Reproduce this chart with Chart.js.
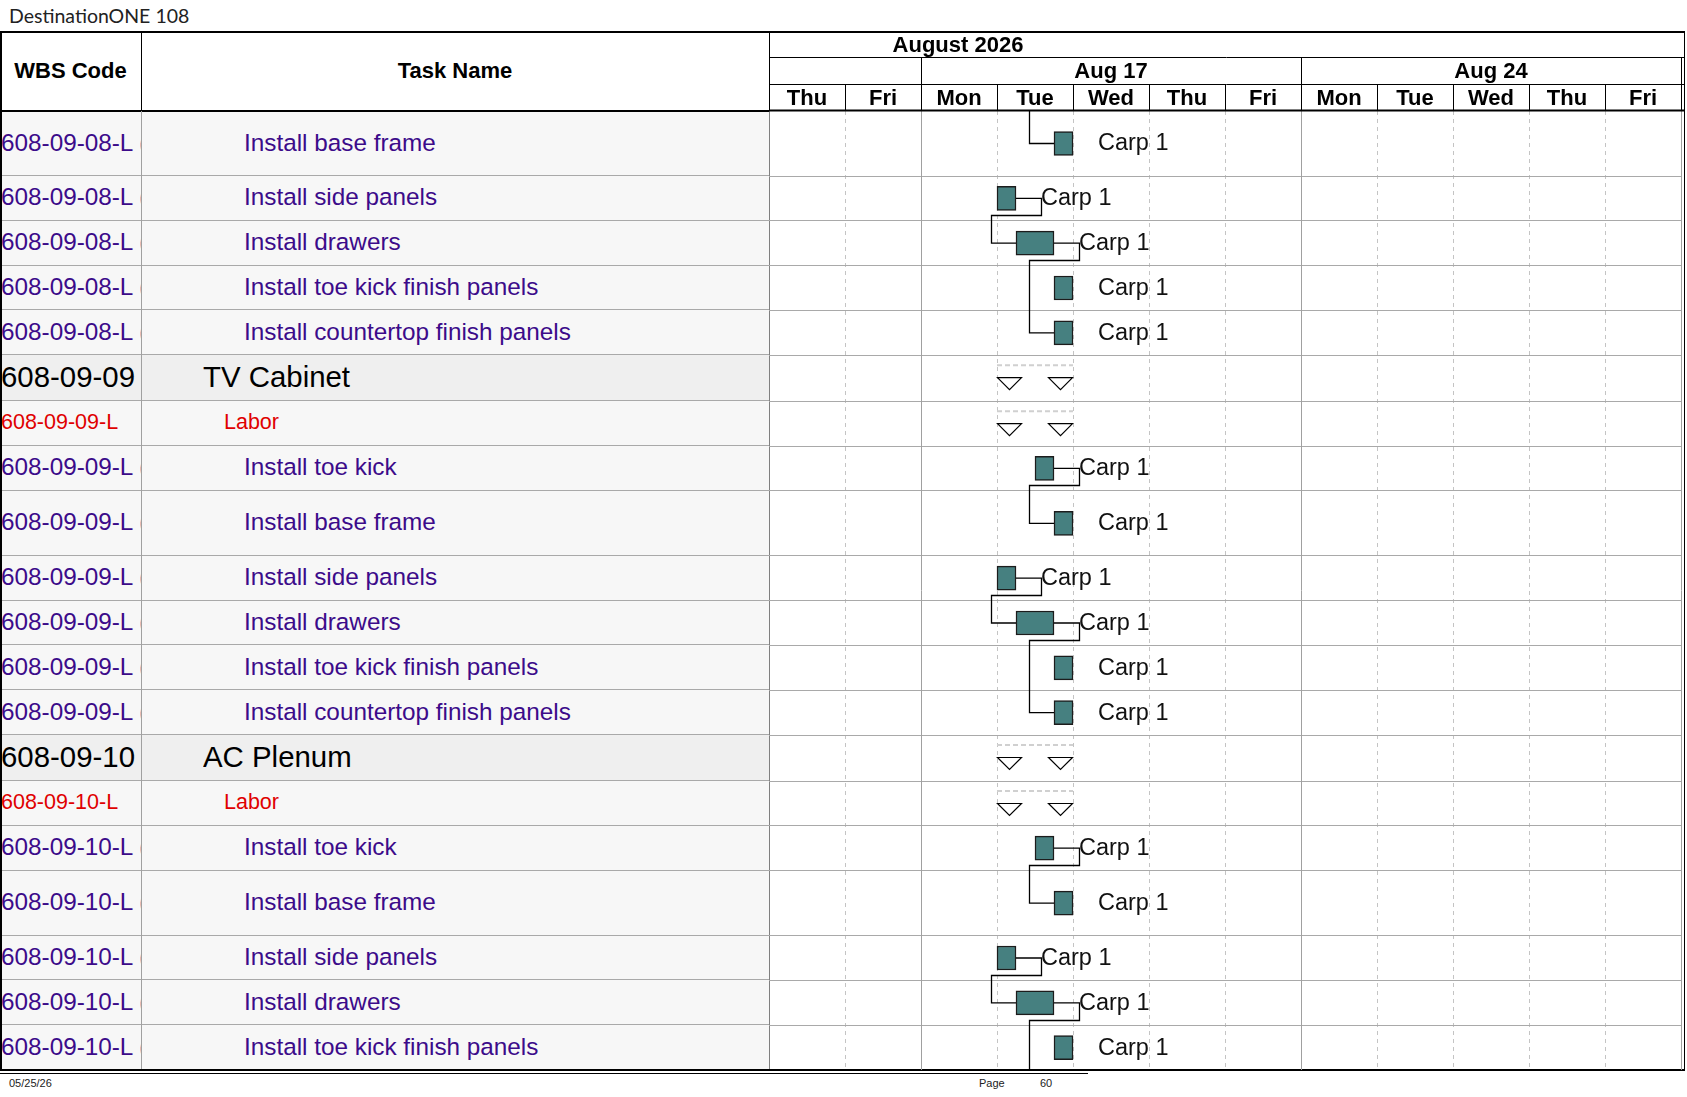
<!DOCTYPE html>
<html>
<head>
<meta charset="utf-8">
<title>DestinationONE 108</title>
<script src="https://cdn.jsdelivr.net/npm/chart.js@4.4.1/dist/chart.umd.min.js"></script>
<style>
  body { margin: 0; background: #fff; width: 1687px; height: 1097px; position: relative; overflow: hidden;
         font-family: "Liberation Sans", Arial, sans-serif; }
  .cell { position: absolute; overflow: hidden; white-space: nowrap; display: flex; align-items: center; box-sizing: border-box; }
  #title { position: absolute; left: 9px; top: 4px; font: 19.5px Lato, "Noto Sans", sans-serif; color: #222; }
  .foot { position: absolute; top: 1077px; font-size: 11px; color: #222; }
  #ganttBox { position: absolute; left: 769px; top: 32px; width: 915px; height: 1038px; }
</style>
</head>
<body>
<div id="title">DestinationONE 108</div>
<div id="ganttBox"><canvas id="gantt"></canvas></div>
<div class="foot" style="left:9px">05/25/26</div>
<div class="foot" style="left:979px">Page</div>
<div class="foot" style="left:1040px">60</div>
<script>
// ---- data ----
const wbsCodes = [
    '608-09-08-L (', '608-09-08-L (', '608-09-08-L (', '608-09-08-L (', '608-09-08-L (',
    '608-09-09', '608-09-09-L',
    '608-09-09-L (', '608-09-09-L (', '608-09-09-L (', '608-09-09-L (', '608-09-09-L (', '608-09-09-L (',
    '608-09-10', '608-09-10-L',
    '608-09-10-L (', '608-09-10-L (', '608-09-10-L (', '608-09-10-L (', '608-09-10-L ('
];
const taskNames = [
    'Install base frame', 'Install side panels', 'Install drawers', 'Install toe kick finish panels', 'Install countertop finish panels',
    'TV Cabinet', 'Labor',
    'Install toe kick', 'Install base frame', 'Install side panels', 'Install drawers', 'Install toe kick finish panels', 'Install countertop finish panels',
    'AC Plenum', 'Labor',
    'Install toe kick', 'Install base frame', 'Install side panels', 'Install drawers', 'Install toe kick finish panels'
];
const rowKinds = [
    'task', 'task', 'task', 'task', 'task',
    'summary', 'labor',
    'task', 'task', 'task', 'task', 'task', 'task',
    'summary', 'labor',
    'task', 'task', 'task', 'task', 'task'
];
// working days counted from Thu Aug 13 (0) ; null = no bar
const barStart = [3.75, 3.0, 3.25, 3.75, 3.75, null, null, 3.5, 3.75, 3.0, 3.25, 3.75, 3.75, null, null, 3.5, 3.75, 3.0, 3.25, 3.75];
const barEnd   = [4.0, 3.25, 3.75, 4.0, 4.0, null, null, 3.75, 4.0, 3.25, 3.75, 4.0, 4.0, null, null, 3.75, 4.0, 3.25, 3.75, 4.0];
const resources = ['Carp 1', 'Carp 1', 'Carp 1', 'Carp 1', 'Carp 1', '', '', 'Carp 1', 'Carp 1', 'Carp 1', 'Carp 1', 'Carp 1', 'Carp 1',
    '', '', 'Carp 1', 'Carp 1', 'Carp 1', 'Carp 1', 'Carp 1'];
const summaryStart = [null, null, null, null, null, 3.0, 3.0, null, null, null, null, null, null, 3.0, 3.0, null, null, null, null, null];
const summaryEnd   = [null, null, null, null, null, 4.0, 4.0, null, null, null, null, null, null, 4.0, 4.0, null, null, null, null, null];
// links: predecessor row -> successor row (-1 = previous page, 20 = next page)
const linkFrom = [-1, 1, 2, 7, 9, 10, 15, 17, 18];
const linkTo   = [0, 2, 4, 8, 10, 12, 16, 18, 20];
const nextPageStart = 3.75;

const dayNames = ['Thu', 'Fri', 'Mon', 'Tue', 'Wed', 'Thu', 'Fri', 'Mon', 'Tue', 'Wed', 'Thu', 'Fri'];
const weekLabels = ['', 'Aug 17', 'Aug 24'];
const weekStarts = [0, 2, 7];
const monthLabel = 'August 2026';

// ---- layout ----
const HEAD_TOP = 32, HEAD_BOTTOM = 111, HEADER_H = HEAD_BOTTOM - HEAD_TOP;
const COL_WBS = 141, COL_GANTT = 769, PAGE_RIGHT = 1684;
const ROW_PX = { task: 44.8, tall: 65, summary: 46, labor: 44.8 };
const TALL_ROWS = [0, 8, 16];
const MONTH_LABEL_X = 189;
const TEXT = {
    task:    { size: 24.3, color: '#3c0b8a', nameX: 244 },
    summary: { size: 29.4, color: '#000',    nameX: 203 },
    labor:   { size: 21.5, color: '#e00000', nameX: 224 }
};

const rowH = rowKinds.map((k, i) => TALL_ROWS.includes(i) ? ROW_PX.tall : ROW_PX[k]);
const rowTop = [];
let totalH = 0;
rowH.forEach(h => { rowTop.push(totalH); totalH += h; });
const rowMid = rowTop.map((t, i) => t + rowH[i] / 2);

// ---- left table (html) ----
function box(l, t, w, h, css) {
    const d = document.createElement('div');
    d.className = 'cell';
    d.style.cssText += `left:${l}px;top:${t}px;width:${w}px;height:${h}px;` + (css || '');
    document.body.insertBefore(d, document.getElementById('ganttBox'));
    return d;
}

taskNames.forEach((name, i) => {
    const t = HEAD_BOTTOM + rowTop[i], h = rowH[i], st = TEXT[rowKinds[i]];
    const bg = rowKinds[i] === 'summary' ? '#efefef' : '#f7f7f7';
    box(0, t, COL_GANTT, h, `background:${bg};border-bottom:1px solid #a9a9a9;`);
    const font = `font-size:${st.size}px;color:${st.color};`;
    box(1, t - 1, COL_WBS - 1, h, font).textContent = wbsCodes[i];
    box(st.nameX, t - 1, COL_GANTT - st.nameX, h, font).textContent = name;
});

const headFont = 'font-weight:bold;font-size:22px;color:#000;justify-content:center;';
box(0, HEAD_TOP, COL_WBS, HEADER_H - 2, headFont).textContent = 'WBS Code';
box(COL_WBS, HEAD_TOP, COL_GANTT - COL_WBS, HEADER_H - 2, headFont).textContent = 'Task Name';

// frame lines
box(0, HEAD_TOP - 1, PAGE_RIGHT + 1, 1.5, 'background:#000');
box(0, HEAD_TOP - 1, 1.5, HEAD_BOTTOM + totalH - HEAD_TOP + 2, 'background:#000');
box(PAGE_RIGHT - 0.5, HEAD_TOP - 1, 1.5, HEAD_BOTTOM + totalH - HEAD_TOP + 2, 'background:#000');
box(0, HEAD_BOTTOM - 1.5, COL_GANTT, 2, 'background:#000');
box(COL_WBS, HEAD_TOP, 1, HEADER_H, 'background:#000');
box(COL_WBS, HEAD_BOTTOM, 1, totalH, 'background:#a0a0a0');
box(COL_GANTT - 0.5, HEAD_TOP, 1, HEADER_H, 'background:#000');
box(COL_GANTT - 0.5, HEAD_BOTTOM, 1, totalH, 'background:#808080');
box(0, HEAD_BOTTOM + totalH - 1, PAGE_RIGHT + 1, 2, 'background:#000');
box(0, HEAD_BOTTOM + totalH + 2.5, 1088, 1.5, 'background:#000');

// ---- gantt (chart.js) ----
function seg(ctx, pts) {
    ctx.beginPath();
    pts.forEach((p, i) => i ? ctx.lineTo(p[0], p[1]) : ctx.moveTo(p[0], p[1]));
    ctx.stroke();
}
const crisp = v => Math.round(v) + 0.5;

const ganttPlugin = {
    id: 'gantt',
    beforeDatasetsDraw(chart) {
        const { ctx, chartArea: a, scales: { x, y } } = chart;
        ctx.save();
        // week boundaries
        ctx.strokeStyle = '#a0a0a0';
        ctx.lineWidth = 1;
        weekStarts.slice(1).concat([dayNames.length]).forEach(v => {
            const px = crisp(x.getPixelForValue(v));
            seg(ctx, [[px, a.top], [px, a.bottom]]);
        });
        // summary markers
        summaryStart.forEach((s0, i) => {
            if (s0 == null) return;
            const s = x.getPixelForValue(s0), e = x.getPixelForValue(summaryEnd[i]);
            const t = y.getPixelForValue(rowTop[i]);
            ctx.setLineDash([5, 3]);
            ctx.strokeStyle = '#d0d0d0';
            ctx.lineWidth = 2;
            seg(ctx, [[s, t + 10], [e, t + 10]]);
            ctx.setLineDash([]);
            ctx.strokeStyle = '#000';
            ctx.lineWidth = 1.2;
            ctx.fillStyle = '#fff';
            [s + 0.5, e - 24.5].forEach(x0 => {
                ctx.beginPath();
                ctx.moveTo(x0, t + 22.5);
                ctx.lineTo(x0 + 24, t + 22.5);
                ctx.lineTo(x0 + 12, t + 34.5);
                ctx.closePath();
                ctx.fill();
                ctx.stroke();
            });
        });
        ctx.restore();
    },
    afterDatasetsDraw(chart) {
        const { ctx, chartArea: a, scales: { x, y } } = chart;
        ctx.save();
        ctx.strokeStyle = '#000';
        ctx.lineWidth = 1.3;
        linkFrom.forEach((f, k) => {
            const to = linkTo[k];
            const inPage = to < taskNames.length;
            const sStart = x.getPixelForValue(inPage ? barStart[to] : nextPageStart);
            const sMid = inPage ? y.getPixelForValue(rowMid[to]) : a.bottom;
            const bend = crisp(sStart - 25);
            if (f < 0) {
                seg(ctx, [[bend, a.top], [bend, sMid], [sStart, sMid]]);
                return;
            }
            const pEnd = x.getPixelForValue(barEnd[f]);
            const pMid = y.getPixelForValue(rowMid[f]);
            const out = crisp(pEnd + 25), low = crisp(pMid + 17);
            const pts = [[pEnd, pMid], [out, pMid], [out, low], [bend, low], [bend, sMid]];
            if (inPage) pts.push([sStart, sMid]);
            seg(ctx, pts);
        });
        ctx.fillStyle = '#111';
        ctx.font = '23.5px "Liberation Sans", Arial, sans-serif';
        ctx.textBaseline = 'middle';
        resources.forEach((r, i) => {
            if (!r || barEnd[i] == null) return;
            ctx.fillText(r, x.getPixelForValue(barEnd[i]) + 25, y.getPixelForValue(rowMid[i]) + 0.5);
        });
        ctx.restore();
    },
    afterDraw(chart) {
        const { ctx, chartArea: a, scales: { x } } = chart;
        const top = a.top - HEADER_H;
        const right = chart.width;
        ctx.save();
        ctx.strokeStyle = '#000';
        ctx.lineWidth = 1;
        seg(ctx, [[a.left, top + 25.5], [right, top + 25.5]]);
        seg(ctx, [[a.left, top + 52.5], [right, top + 52.5]]);
        weekStarts.slice(1).concat([dayNames.length]).forEach(v => {
            const px = crisp(x.getPixelForValue(v));
            seg(ctx, [[px, top + 25], [px, top + 52]]);
        });
        for (let d = 1; d <= dayNames.length; d++) {
            const px = crisp(x.getPixelForValue(d));
            seg(ctx, [[px, top + 52], [px, a.top]]);
        }
        ctx.lineWidth = 2;
        seg(ctx, [[0, a.top - 0.5], [right, a.top - 0.5]]);
        ctx.fillStyle = '#000';
        ctx.font = 'bold 22px "Liberation Sans", Arial, sans-serif';
        ctx.textAlign = 'center';
        ctx.textBaseline = 'middle';
        ctx.fillText(monthLabel, a.left + MONTH_LABEL_X, top + 14);
        weekLabels.forEach((w, i) => {
            const s = x.getPixelForValue(weekStarts[i]);
            const e = x.getPixelForValue(i + 1 < weekStarts.length ? weekStarts[i + 1] : dayNames.length);
            ctx.fillText(w, (s + e) / 2, top + 40);
        });
        ctx.restore();
    }
};

const barData = [];
barStart.forEach((s, i) => {
    if (s == null) return;
    barData.push({ x: [s, barEnd[i]], y: rowMid[i] });
});

new Chart(document.getElementById('gantt'), {
    type: 'bar',
    data: {
        datasets: [{
            data: barData,
            backgroundColor: '#468080',
            borderColor: '#1c1c1c',
            borderWidth: 1.5,
            borderSkipped: false,
            barThickness: 24,
            xAxisID: 'x',
            yAxisID: 'y'
        }]
    },
    options: {
        indexAxis: 'y',
        responsive: true,
        maintainAspectRatio: false,
        animation: false,
        layout: { padding: { left: 0, right: 3, top: 0, bottom: 0 } },
        plugins: { legend: { display: false }, tooltip: { enabled: false } },
        scales: {
            x: {
                type: 'linear', position: 'top', min: 0, max: dayNames.length,
                afterBuildTicks: s => { s.ticks = dayNames.map((d, i) => ({ value: i })).concat([{ value: dayNames.length }]); },
                afterFit: s => { s.height = 0; },
                ticks: { display: false },
                grid: { drawTicks: false, color: c => (c.tick && c.tick.value === 0) ? 'rgba(0,0,0,0)' : '#c4c4c4' },
                border: { display: false, dash: [4, 4] }
            },
            days: {
                type: 'category', position: 'top', labels: dayNames, offset: true,
                afterFit: s => { s.height = HEADER_H; },
                grid: { display: false, drawTicks: false },
                border: { display: false },
                ticks: { color: '#000', padding: 1, maxRotation: 0, autoSkip: false,
                         font: { family: '"Liberation Sans", Arial, sans-serif', size: 22, weight: 'bold', lineHeight: 1.0 } }
            },
            y: {
                type: 'linear', min: 0, max: totalH, reverse: true, offset: false,
                afterBuildTicks: s => { s.ticks = rowTop.slice(1).map(v => ({ value: v })); },
                afterFit: s => { s.width = 0; },
                ticks: { display: false },
                grid: { drawTicks: false, offset: false, color: '#a9a9a9' },
                border: { display: false }
            }
        }
    },
    plugins: [ganttPlugin]
});
</script>
</body>
</html>
